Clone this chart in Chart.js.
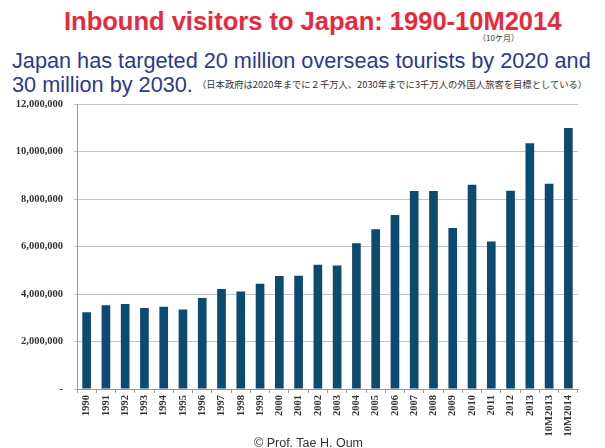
<!DOCTYPE html>
<html><head><meta charset="utf-8">
<script src="https://cdn.jsdelivr.net/npm/chart.js@4.4.1/dist/chart.umd.min.js"></script>
<style>
html,body{margin:0;padding:0;background:#fff;width:605px;height:448px;overflow:hidden;position:relative;font-family:"Liberation Sans",Arial,sans-serif}
.t{position:absolute;white-space:nowrap;line-height:1}
#title{left:64px;top:9px;font-size:25.5px;font-weight:bold;color:#e62a3c}
#mon{left:478px;top:34px;font-size:8px;color:#333;font-family:"Noto Sans CJK JP",serif}
#sub1{left:12px;top:50px;font-size:21.7px;color:#2b3990}
#sub2{left:12px;top:74px;font-size:21.7px;color:#2b3990}
#jp{left:197px;top:80px;font-size:9.3px;color:#333;font-family:"Noto Sans CJK JP",serif}
#foot{left:254px;top:437px;font-size:12.5px;color:#333}
#wrap{position:absolute;left:0;top:87px;width:605px;height:361px}
</style></head>
<body>
<div class="t" id="title">Inbound visitors to Japan: 1990-10M2014</div>
<div class="t" id="mon">（10ケ月）</div>
<div class="t" id="sub1">Japan has targeted 20 million overseas tourists by 2020 and</div>
<div class="t" id="sub2">30 million by 2030.</div>
<div class="t" id="jp">（日本政府は2020年までに２千万人、2030年までに3千万人の外国人旅客を目標としている）</div>
<div id="wrap"><canvas id="c" width="605" height="361"></canvas></div>
<div class="t" id="foot">© Prof. Tae H. Oum</div>
<script>
const categories = ["1990","1991","1992","1993","1994","1995","1996","1997","1998","1999","2000","2001","2002","2003","2004","2005","2006","2007","2008","2009","2010","2011","2012","2013","10M2013","10M2014"];
const visitors = [3240000,3530000,3580000,3410000,3470000,3350000,3840000,4220000,4110000,4440000,4760000,4770000,5240000,5210000,6140000,6730000,7330000,8350000,8350000,6790000,8610000,6220000,8360000,10360000,8650000,11000000];
const yTicks = [0,2000000,4000000,6000000,8000000,10000000,12000000];

new Chart(document.getElementById('c'), {
  type: 'bar',
  data: { labels: categories, datasets: [{ data: visitors, backgroundColor: '#0d4a6f', barPercentage: 0.45, categoryPercentage: 1.0 }] },
  options: {
    responsive: false, animation: false,
    layout: { padding: { left: 0, right: 27, top: 0, bottom: 0 } },
    plugins: { legend: { display: false }, tooltip: { enabled: false } },
    scales: {
      x: {
        grid: { offset: true, drawOnChartArea: false, drawTicks: true, tickLength: 4, color: '#999' },
        border: { color: '#999' },
        ticks: { minRotation: 90, maxRotation: 90, autoSkip: false, padding: 2, color: '#333', font: { family: '"Liberation Serif", serif', size: 10.5, weight: 'bold' } },
        afterFit: s => { s.height = 59; }
      },
      y: {
        min: 0, max: 12000000,
        afterBuildTicks: s => { s.ticks = yTicks.map(v => ({ value: v })); },
        grid: { color: '#c4c4c4', drawTicks: true, tickLength: 3 },
        border: { color: '#999' },
        ticks: { padding: 11, color: '#333', font: { family: '"Liberation Serif", serif', size: 10.5, weight: 'bold' },
          callback: v => v === 0 ? '-' : v.toLocaleString('en-US') },
        afterFit: s => { s.width = 77; }
      }
    }
  }
});
</script>
</body></html>
